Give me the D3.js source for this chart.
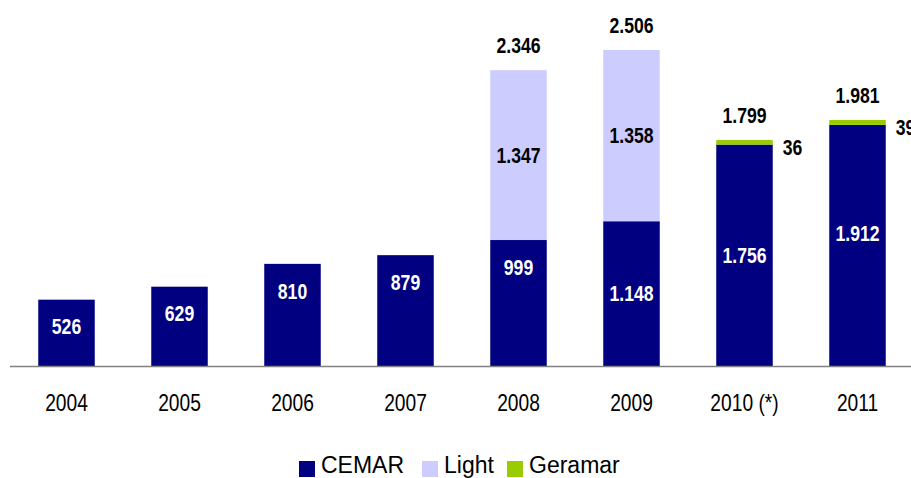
<!DOCTYPE html>
<html>
<head>
<meta charset="utf-8">
<script src="https://cdn.jsdelivr.net/npm/d3@7"></script>
<style>
  html, body { margin: 0; padding: 0; background: #fff; }
  svg { display: block; }
  .narrow { font-family: "Liberation Sans", Arial, sans-serif; }
  .legend { font-family: "Liberation Sans", Arial, sans-serif; }
</style>
</head>
<body>
<svg id="chart" width="911" height="478"></svg>
<script>
const categories = ["2004", "2005", "2006", "2007", "2008", "2009", "2010 (*)", "2011"];
const cemar   = [526, 629, 810, 879, 999, 1148, 1756, 1912];
const light   = [0, 0, 0, 0, 1347, 1358, 0, 0];
const geramar = [0, 0, 0, 0, 0, 0, 36, 39];
const totals  = [null, null, null, null, 2346, 2506, 1799, 1981];
const seriesNames = ["CEMAR", "Light", "Geramar"];
const colors = ["#000080", "#CCCCFF", "#99CC00"];

const fmt = v => {
  const s = String(Math.round(v));
  return s.length > 3 ? s.slice(0, s.length - 3) + "." + s.slice(-3) : s;
};

const svg = d3.select("#chart");
const W = 911, H = 478;
const baseY = 366;
const SX = 0.8;

const x = d3.scaleBand().domain(categories).range([10, 914]).paddingInner(0.5).paddingOuter(0.25);
const y = d3.scaleLinear().domain([0, 2506]).range([baseY, 50]);

const rows = categories.map((c, i) => ({ cat: c, CEMAR: cemar[i], Light: light[i], Geramar: geramar[i] }));
const stack = d3.stack().keys(seriesNames)(rows);

const g = svg.append("g");
stack.forEach((layer, si) => {
  g.append("g").attr("fill", colors[si])
    .selectAll("rect").data(layer.filter(d => d[1] > d[0])).join("rect")
    .attr("x", d => x(d.data.cat))
    .attr("width", x.bandwidth())
    .attr("y", d => y(d[1]))
    .attr("height", d => y(d[0]) - y(d[1]));
});

// axis line
svg.append("line").attr("x1", 10).attr("x2", W).attr("y1", baseY + 0.5).attr("y2", baseY + 0.5)
  .attr("stroke", "#808080").attr("stroke-width", 1.5);

function label(parent, px, py, txt, opts) {
  const t = parent.append("text")
    .attr("class", "narrow")
    .attr("transform", `translate(${px},${py}) scale(${SX},1)`)
    .attr("font-size", opts.size)
    .attr("font-weight", opts.bold ? "bold" : "normal")
    .attr("text-anchor", opts.anchor || "middle")
    .attr("fill", opts.fill || "#000")
    .text(txt);
  if (opts.central) t.attr("dominant-baseline", "central");
  return t;
}

// category labels via axis
const xAxis = d3.axisBottom(x).tickSize(0).tickPadding(0);
const ax = svg.append("g").attr("transform", `translate(0,${baseY})`).call(xAxis);
ax.select(".domain").remove();
ax.selectAll("text").attr("class", "narrow").attr("font-size", 24).attr("fill", "#000")
  .attr("dy", null).attr("y", null)
  .attr("transform", `translate(0,45) scale(${SX},1)`);

const labelG = svg.append("g");
const LS = 22;
// CEMAR labels (white)
stack[0].forEach(d => {
  const top = y(d[1]), bot = y(d[0]);
  const cy = d[1] < 1000 ? top + 27 : (d[1] > 1800 ? top + 108 : (top + bot) / 2);
  label(labelG, x(d.data.cat) + x.bandwidth() / 2, cy, fmt(d[1] - d[0]), { size: LS, bold: true, fill: "#fff", central: true });
});
// Light labels
stack[1].filter(d => d[1] > d[0]).forEach(d => {
  const top = y(d[1]), bot = y(d[0]);
  label(labelG, x(d.data.cat) + x.bandwidth() / 2, (top + bot) / 2, fmt(d[1] - d[0]), { size: LS, bold: true, central: true });
});
// Geramar labels, to the right
stack[2].filter(d => d[1] > d[0]).forEach(d => {
  const top = y(d[1]), bot = y(d[0]);
  label(labelG, x(d.data.cat) + x.bandwidth() + 10, (top + bot) / 2 + 5, fmt(d[1] - d[0]), { size: LS, bold: true, anchor: "start", central: true });
});
// Totals
stack[2].forEach((d, i) => {
  if (totals[i] == null) return;
  label(labelG, x(d.data.cat) + x.bandwidth() / 2, y(d[1]) - 17, fmt(totals[i]), { size: LS, bold: true });
});

// Legend
const legendX = [299, 422, 507];
const lg = svg.append("g").attr("class", "legend");
seriesNames.forEach((n, i) => {
  lg.append("rect").attr("x", legendX[i]).attr("y", 461).attr("width", 16).attr("height", 16).attr("fill", colors[i]);
  lg.append("text").attr("x", legendX[i] + 22).attr("y", 473).attr("font-size", 23).attr("fill", "#000").text(n);
});
</script>
</body>
</html>
